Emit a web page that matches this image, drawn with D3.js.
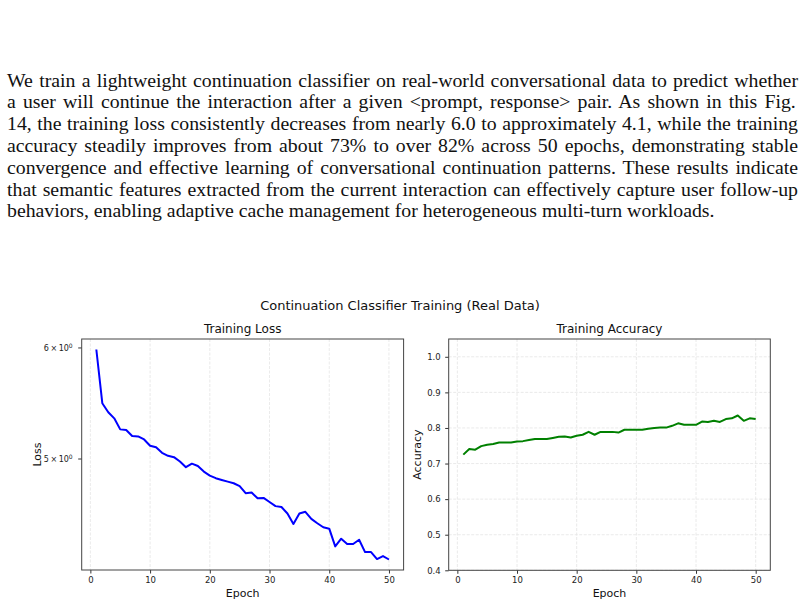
<!DOCTYPE html>
<html>
<head>
<meta charset="utf-8">
<style>
body {
  margin: 0;
  width: 808px;
  height: 607px;
  position: relative;
  background: #fff;
  overflow: hidden;
}
#para {
  position: absolute;
  left: 7px;
  top: 69.7px;
  width: 791px;
  font-family: "Liberation Serif", "Times New Roman", serif;
  font-size: 19.8px;
  line-height: 21.8px;
  color: #111;
}
#para div {
  white-space: nowrap;
}
svg {
  position: absolute;
  left: 0;
  top: 0;
  font-family: "DejaVu Sans", sans-serif;
}
.grid line {
  stroke: #e4e4e4;
  stroke-width: 0.8px;
  stroke-dasharray: 3,1.5;
}
.tick line {
  stroke: #333;
}
.tick text {
  fill: #222;
  font-family: "DejaVu Sans", sans-serif;
  font-size: 8.5px;
}
.ltick text {
  font-size: 8px;
}
</style>
<script src="https://cdn.jsdelivr.net/npm/d3@7"></script>
</head>
<body>
<div id="para"></div>
<script type="text/javascript">
// paragraph lines above the figure
var paraLines = [
  "We train a lightweight continuation classifier on real-world conversational data to predict whether",
  "a user will continue the interaction after a given <prompt, response> pair.  As shown in this Fig.",
  "14, the training loss consistently decreases from nearly 6.0 to approximately 4.1, while the training",
  "accuracy steadily improves from about 73% to over 82% across 50 epochs, demonstrating stable",
  "convergence and effective learning of conversational continuation patterns. These results indicate",
  "that semantic features extracted from the current interaction can effectively capture user follow-up",
  "behaviors, enabling adaptive cache management for heterogeneous multi-turn workloads."
];

var lossValues = [
  5.98, 5.475, 5.395, 5.341, 5.245, 5.240, 5.188, 5.185, 5.159, 5.106,
  5.093, 5.047, 5.022, 5.011, 4.975, 4.929, 4.958, 4.939, 4.894, 4.862,
  4.841, 4.827, 4.814, 4.801, 4.778, 4.723, 4.728, 4.684, 4.687, 4.655,
  4.624, 4.617, 4.568, 4.491, 4.568, 4.581, 4.528, 4.496, 4.466, 4.456,
  4.328, 4.383, 4.345, 4.345, 4.376, 4.288, 4.288, 4.239, 4.260, 4.236
];

var accValues = [
  0.725, 0.741, 0.739, 0.749, 0.753, 0.755, 0.759, 0.759, 0.759, 0.762,
  0.763, 0.766, 0.769, 0.769, 0.769, 0.772, 0.775, 0.776, 0.773, 0.778,
  0.781, 0.789, 0.781, 0.789, 0.789, 0.789, 0.787, 0.795, 0.795, 0.795,
  0.795, 0.798, 0.800, 0.801, 0.801, 0.806, 0.813, 0.809, 0.809, 0.809,
  0.818, 0.817, 0.820, 0.817, 0.825, 0.827, 0.835, 0.820, 0.827, 0.825
];

var epochs = lossValues.map(function(d, i) { return i + 1; });

var epochTicks = [0, 10, 20, 30, 40, 50];
var accTicks = [0.4, 0.5, 0.6, 0.7, 0.8, 0.9, 1.0];
var lossTicks = [5, 6];

var paraWidth = 791;
d3.select("#para").selectAll("div")
  .data(paraLines)
  .enter()
  .append("div")
  .append("span")
  .text(function(d) { return d; })
  .each(function(d, i) {
    if (i == paraLines.length - 1) return;
    // justify by hand: spread the spare width over the spaces
    var w = this.getBoundingClientRect().width;
    var n = d.split(" ").length - 1;
    d3.select(this).style("word-spacing", ((paraWidth - w) / n) + "px");
  });

var svg = d3.select("body").append("svg")
  .attr("width", 808)
  .attr("height", 607);

svg.append("text")
  .attr("x", 400)
  .attr("y", 309.5)
  .attr("text-anchor", "middle")
  .style("font-size", "13px")
  .style("fill", "#111")
  .text("Continuation Classifier Training (Real Data)");

// 5% padding like matplotlib
var ex = d3.extent(epochs);
var pad = (ex[1] - ex[0]) * 0.05;

var left = {x0: 81.7, x1: 403.6, y0: 339, y1: 570};
var right = {x0: 448.7, x1: 770.3, y0: 339, y1: 570.3};

var xL = d3.scaleLinear().domain([ex[0] - pad, ex[1] + pad]).range([left.x0, left.x1]);
var xR = d3.scaleLinear().domain([ex[0] - pad, ex[1] + pad]).range([right.x0, right.x1]);

var lx = d3.extent(lossValues).map(Math.log10);
var lpad = (lx[1] - lx[0]) * 0.05;
var yL = d3.scaleLog()
  .domain([Math.pow(10, lx[0] - lpad), Math.pow(10, lx[1] + lpad)])
  .range([left.y1, left.y0]);

var yR = d3.scaleLinear().domain([0.4, 1.05]).range([right.y1, right.y0]);

function panel(box, x, y, yTicks, values, color, title, ylab, ylabX, ygrid, fmt, pad2, ycls) {
  var g = svg.append("g");

  // grid
  var grid = g.append("g").attr("class", "grid");
  grid.selectAll("line.v")
    .data(epochTicks)
    .enter().append("line")
    .attr("class", "v")
    .attr("x1", function(d) { return x(d); })
    .attr("x2", function(d) { return x(d); })
    .attr("y1", box.y0)
    .attr("y2", box.y1);
  if (ygrid) {
    grid.selectAll("line.h")
      .data(yTicks)
      .enter().append("line")
      .attr("class", "h")
      .attr("x1", box.x0)
      .attr("x2", box.x1)
      .attr("y1", function(d) { return y(d); })
      .attr("y2", function(d) { return y(d); });
  }

  var line = d3.line()
    .x(function(d, i) { return x(epochs[i]); })
    .y(function(d) { return y(d); });

  g.append("path")
    .datum(values)
    .attr("d", line)
    .attr("fill", "none")
    .attr("stroke", color)
    .attr("stroke-width", 2)
    .attr("stroke-linejoin", "round");

  var xa = g.append("g")
    .attr("transform", "translate(0," + box.y1 + ")")
    .call(d3.axisBottom(x).tickValues(epochTicks).tickSize(3.5).tickPadding(3.5).tickFormat(d3.format("d")));
  xa.select(".domain").remove();

  var ya = g.append("g")
    .attr("class", ycls)
    .attr("transform", "translate(" + box.x0 + ",0)")
    .call(d3.axisLeft(y).tickValues(yTicks).tickSize(3.5).tickPadding(pad2).tickFormat(""));
  ya.select(".domain").remove();
  ya.selectAll(".tick text").each(fmt);

  g.append("rect")
    .attr("x", box.x0)
    .attr("y", box.y0)
    .attr("width", box.x1 - box.x0)
    .attr("height", box.y1 - box.y0)
    .attr("fill", "none")
    .attr("stroke", "#444")
    .attr("stroke-width", 1);

  var cx = (box.x0 + box.x1) / 2;
  g.append("text")
    .attr("x", cx)
    .attr("y", 333)
    .attr("text-anchor", "middle")
    .style("font-size", "12px")
    .style("fill", "#111")
    .text(title);

  g.append("text")
    .attr("x", cx)
    .attr("y", 597.3)
    .attr("text-anchor", "middle")
    .style("font-size", "11px")
    .style("fill", "#111")
    .text("Epoch");

  g.append("text")
    .attr("transform", "translate(" + ylabX + "," + ((box.y0 + box.y1) / 2) + ") rotate(-90)")
    .attr("text-anchor", "middle")
    .style("font-size", "11px")
    .style("fill", "#111")
    .text(ylab);
}

panel(left, xL, yL, lossTicks, lossValues, "#0000ff", "Training Loss", "Loss", 40.5, false,
  function(d) {
    var t = d3.select(this);
    t.text(d + "\u2009\u00d7\u200910");
    t.append("tspan")
      .attr("dy", "-0.45em")
      .style("font-size", "6px")
      .text("0");
  }, 5.5, "ltick");

panel(right, xR, yR, accTicks, accValues, "#008000", "Training Accuracy", "Accuracy", 421, true,
  function(d) {
    d3.select(this).text(d3.format(".1f")(d));
  }, 4.5, "rtick");
</script>
</body>
</html>
